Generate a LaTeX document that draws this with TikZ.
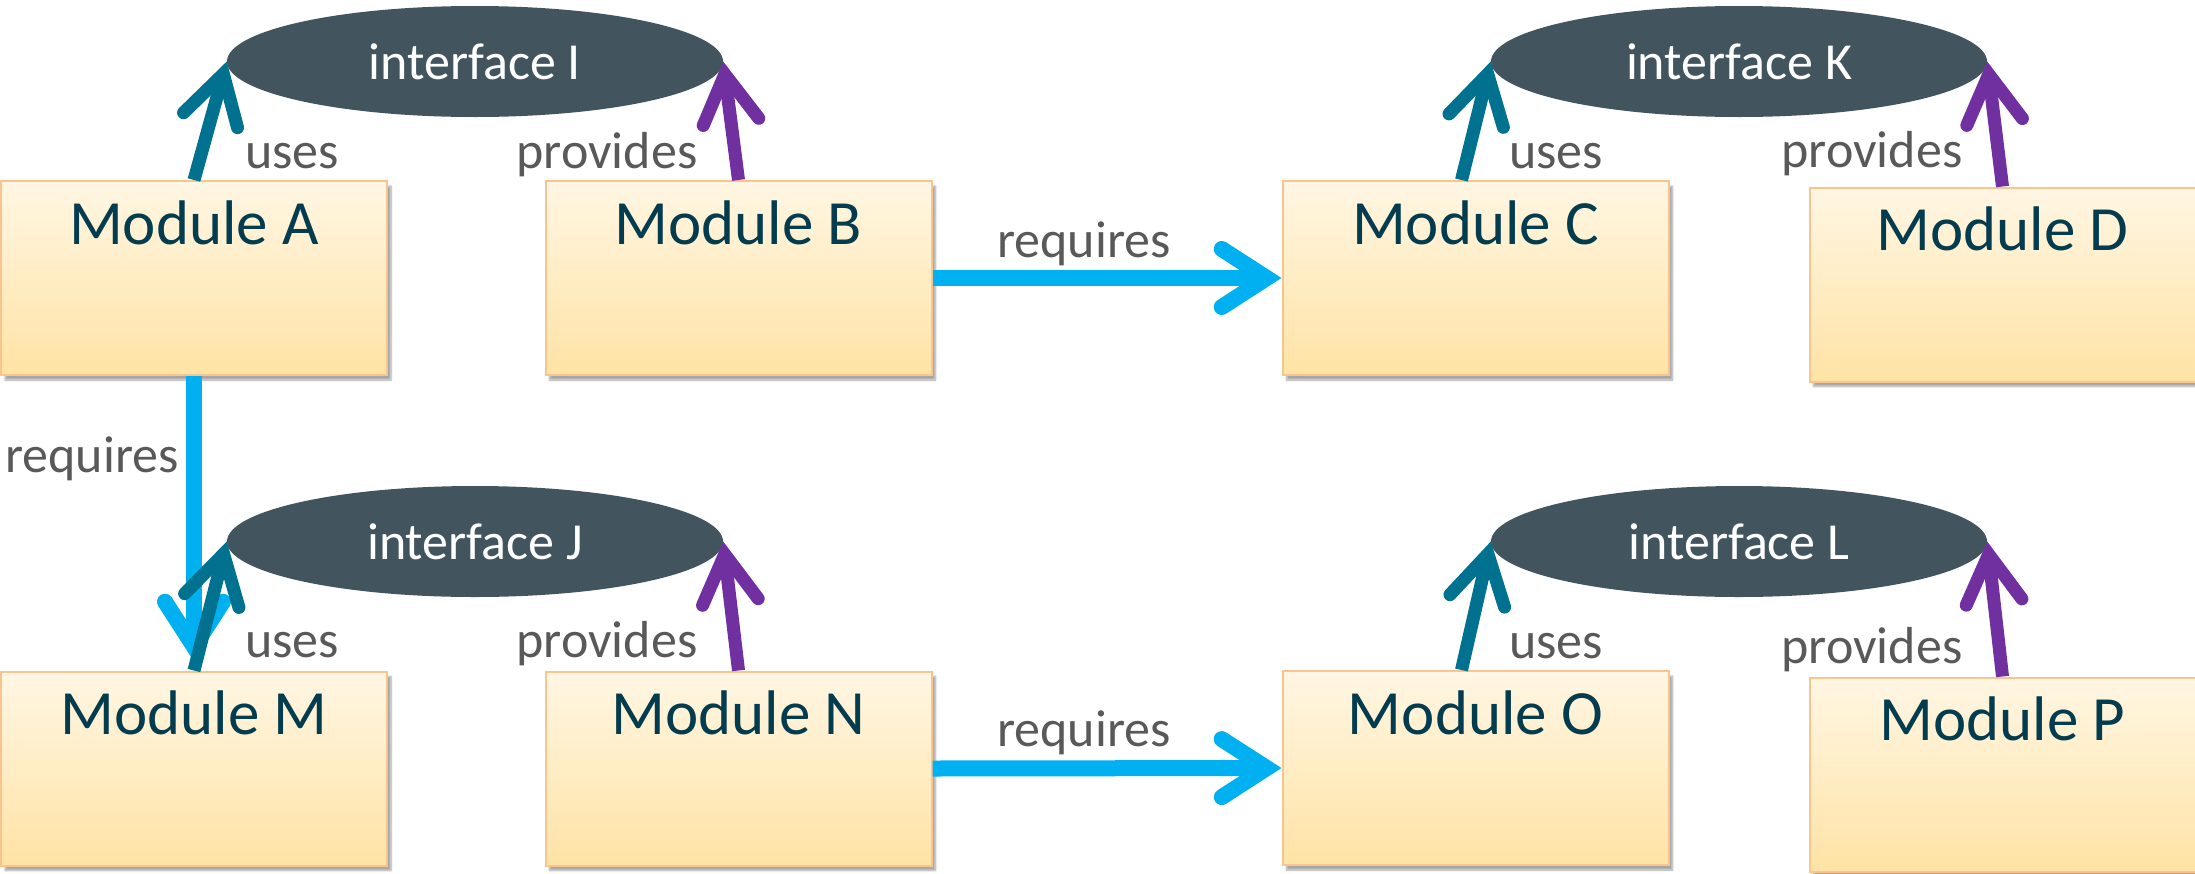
\documentclass[tikz,border=0pt]{standalone}
\usepackage{fontspec}
\setmainfont{Carlito}
\usetikzlibrary{arrows.meta,shapes.geometric,shadows.blur}
\definecolor{boxtop}{HTML}{FFF6E3}
\definecolor{boxbot}{HTML}{FFE3A5}
\definecolor{boxline}{HTML}{FAC48E}
\definecolor{modtxt}{HTML}{023C4E}
\definecolor{ifill}{HTML}{42555E}
\definecolor{usecol}{HTML}{00718F}
\definecolor{provcol}{HTML}{7030A0}
\definecolor{reqcol}{HTML}{00B0F0}
\definecolor{lblcol}{HTML}{595959}

\begin{document}
\begin{tikzpicture}
[x=1pt,y=-1pt]
\tikzset{modbox/.style={rectangle,draw=boxline,line width=2pt,top color=boxtop,bottom color=boxbot,minimum width=386pt,inner xsep=0pt,inner ysep=21pt,text height=42pt,text depth=110pt,text=modtxt,font=\fontsize{63}{70}\selectfont,blur shadow={shadow xshift=4pt,shadow yshift=-5pt,shadow blur steps=6,shadow opacity=35}}}
\tikzset{iface/.style={ellipse,fill=ifill,minimum width=496pt,minimum height=111pt,inner sep=0pt,text=white,font=\fontsize{52}{60}\selectfont}}
\tikzset{lbl/.style={text=lblcol,font=\fontsize{52}{60}\selectfont,anchor=base,inner sep=0pt}}
\tikzset{uses/.style={draw=usecol,line width=13pt,-{Straight Barb[length=48pt,width=56pt,line cap=round]}}}
\tikzset{provides/.style={draw=provcol,line width=13pt,-{Straight Barb[length=48pt,width=56pt,line cap=round]}}}
\tikzset{requires/.style={draw=reqcol,line width=16pt,-{Straight Barb[length=45pt,width=58pt,line cap=round]}}}
\useasboundingbox (0,0) rectangle (2195,873);

\node [modbox] (A) at (194,278) {Module A};
\node [modbox] (B) at (738.5,278) {Module B};
\node [modbox] (C) at (1475.5,278) {Module C};
\node [modbox] (D) at (2002.5,284.5) {Module D};
\node [modbox] (M) at (194,768.5) {Module M};
\node [modbox] (N) at (738.5,768.5) {Module N};
\node [modbox] (O) at (1475.5,768) {Module O};
\node [modbox] (P) at (2002.5,774.5) {Module P};

\node [iface] (I) at (475,61.5) {interface I};
\node [iface] (J) at (475,541.5) {interface J};
\node [iface] (K) at (1739,61.5) {interface K};
\node [iface] (L) at (1739,541.5) {interface L};

\node [lbl] (uI) at (292,168) {uses};
\node [lbl] (pI) at (607,168) {provides};
\node [lbl] (uJ) at (292,657) {uses};
\node [lbl] (pJ) at (607,657) {provides};
\node [lbl] (uK) at (1556,168) {uses};
\node [lbl] (pK) at (1872,167) {provides};
\node [lbl] (uL) at (1556,658) {uses};
\node [lbl] (pL) at (1872,663) {provides};
\node [lbl] (rAM) at (92,472) {requires};
\node [lbl] (rBC) at (1084,257) {requires};
\node [lbl] (rNO) at (1084,746) {requires};

\foreach \from/\to in {A/M}
	\draw [requires,shorten >=9pt] (\from.south) -- (\to.north);
\foreach \from/\to in {B/C,N/O}
	\draw [requires] (\from.east) -- (\to.west);
\foreach \from/\dx/\to in {A/0/I,M/0/J,C/-14/K,O/-14/L}
	\draw [uses] ([xshift=\dx pt]\from.north) -- (\to.west);
\foreach \from/\to in {B/I,N/J,D/K,P/L}
	\draw [provides] (\from.north) -- (\to.east);

\end{tikzpicture}
\end{document}
